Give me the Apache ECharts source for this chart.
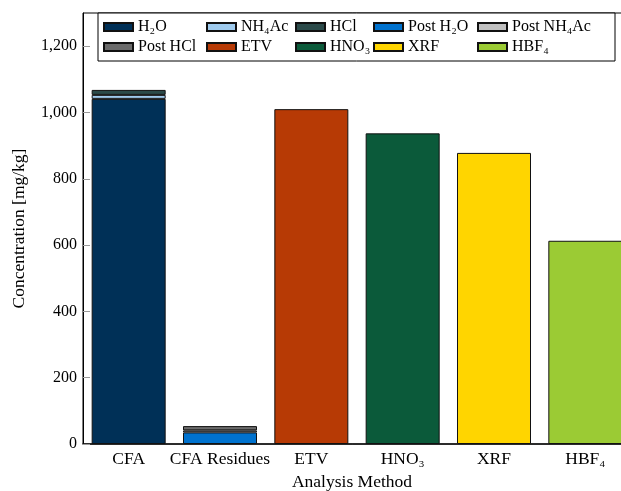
<!DOCTYPE html>
<html>
<head>
<meta charset="utf-8">
<script src="https://cdn.jsdelivr.net/npm/echarts@6/dist/echarts.min.js"></script>
<style>
  html, body { margin: 0; padding: 0; background: #fff; overflow: hidden; }
  #chart { width: 621px; height: 491px; }
</style>
</head>
<body>
<div id="chart"></div>
<script>
// Analysis methods on the x axis
const categories = ['CFA', 'CFA Residues', 'ETV', 'HNO₃', 'XRF', 'HBF₄'];

// Concentrations in mg/kg, one entry per category (null = not applicable)
const h2o        = [1041, null, null, null, null, null];
const nh4ac      = [12,   null, null, null, null, null];
const hcl        = [15,   null, null, null, null, null];
const postH2o    = [null, 35,   null, null, null, null];
const postNh4ac  = [null, 6,    null, null, null, null];
const postHcl    = [null, 13,   null, null, null, null];
const etv        = [null, null, 1010, null, null, null];
const hno3       = [null, null, null, 937,  null, null];
const xrf        = [null, null, null, null, 878,  null];
const hbf4       = [null, null, null, null, null, 613];

// Y axis ticks
const yTicks = [0, 200, 400, 600, 800, 1000, 1200];

const seriesDefs = [
  { name: 'H₂O',        data: h2o,       color: '#003057' },
  { name: 'NH₄Ac',      data: nh4ac,     color: '#9fcbee' },
  { name: 'HCl',        data: hcl,       color: '#2b4a49' },
  { name: 'Post H₂O',   data: postH2o,   color: '#0072ce' },
  { name: 'Post NH₄Ac', data: postNh4ac, color: '#c0c0c0' },
  { name: 'Post HCl',   data: postHcl,   color: '#6b6b6b' },
  { name: 'ETV',        data: etv,       color: '#b73a05' },
  { name: 'HNO₃',       data: hno3,      color: '#0b5a3a' },
  { name: 'XRF',        data: xrf,       color: '#ffd500' },
  { name: 'HBF₄',       data: hbf4,      color: '#9bcb34' }
];

const FONT = 'Liberation Serif';
const FS = 16;
const FS_LABEL = 17.5;

const series = seriesDefs.map(s => ({
  name: s.name,
  type: 'bar',
  stack: 'total',
  barWidth: 74,
  data: s.data,
  itemStyle: { color: s.color, borderColor: '#111', borderWidth: 1 }
}));

// Legend laid out in five aligned columns of two entries each
const colX = [103, 206, 295, 373, 477];
const legends = colX.map((x, i) => ({
  orient: 'vertical',
  left: x,
  top: 19,
  padding: 0,
  itemGap: 4,
  itemWidth: 29,
  itemHeight: 8,
  icon: 'rect',
  selectedMode: false,
  z: 10,
  data: [seriesDefs[i].name, seriesDefs[i + 5].name],
  textStyle: { fontFamily: FONT, fontSize: FS, color: '#000', lineHeight: 16 }
}));

const chart = echarts.init(document.getElementById('chart'), null, { renderer: 'canvas', width: 621, height: 491 });
chart.setOption({
  animation: false,
  backgroundColor: '#fff',
  grid: {
    left: 83, top: 13, width: 548, height: 431,
    outerBoundsMode: 'none',
    containLabel: false,
    show: true, borderColor: '#000', borderWidth: 1
  },
  legend: legends,
  graphic: [{
    type: 'rect',
    shape: { x: 98, y: 13, width: 517, height: 48 },
    style: { fill: '#fff', stroke: '#000', lineWidth: 1 },
    z: 3
  }],
  xAxis: {
    type: 'category',
    data: categories,
    axisLine: { show: true, lineStyle: { color: '#111', width: 1.5 } },
    axisTick: { show: false },
    axisLabel: { interval: 0, fontFamily: FONT, fontSize: FS_LABEL, color: '#000', margin: 6 },
    name: 'Analysis Method',
    nameLocation: 'middle',
    nameGap: 29,
    nameTextStyle: { fontFamily: FONT, fontSize: FS_LABEL, color: '#000', padding: [0, 10, 0, 0] }
  },
  yAxis: {
    type: 'value',
    min: 0,
    max: 1300,
    interval: 200,
    splitLine: { show: false },
    axisLine: { show: true, lineStyle: { color: '#000', width: 1 } },
    axisTick: { show: true, inside: true, length: 7, lineStyle: { color: '#999' } },
    axisLabel: {
      fontFamily: FONT, fontSize: FS, color: '#000', margin: 6,
      showMaxLabel: false,
      formatter: v => yTicks.includes(v) ? v.toLocaleString('en-US') : ''
    },
    name: 'Concentration [mg/kg]',
    nameLocation: 'middle',
    nameGap: 55,
    nameTextStyle: { fontFamily: FONT, fontSize: FS_LABEL, color: '#000' }
  },
  series: series
});
</script>
</body>
</html>
